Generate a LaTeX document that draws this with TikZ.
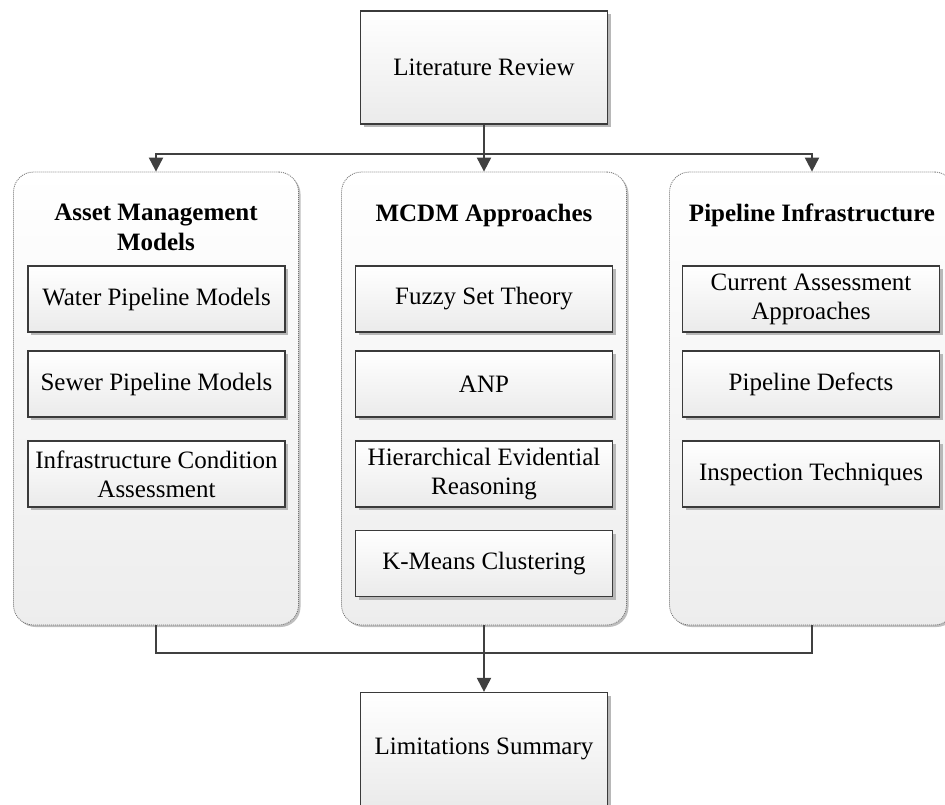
\documentclass[tikz,border=0pt]{standalone}
\usepackage{fontspec}
\setmainfont{Liberation Serif}
\usetikzlibrary{arrows.meta,shadows}
\definecolor{linegray}{HTML}{404040}
\definecolor{edgegray}{HTML}{3A3A3A}
\begin{document}
\begin{tikzpicture}[x=1pt,y=-1pt,
  txt/.style={font=\fontsize{25}{29}\selectfont, align=center},
  itembox/.style={txt, draw=edgegray, line width=1.2pt, top color=white,
    bottom color=black!8, minimum width=257pt, minimum height=66pt, inner sep=2pt,
    drop shadow={shadow xshift=3pt, shadow yshift=-3pt, fill=black!28, opacity=1}},
  endbox/.style={itembox, minimum width=247pt, minimum height=113pt},
  group/.style={draw=black!55, line width=0.8pt, dash pattern=on 1pt off 1pt,
    rounded corners=20pt, top color=white, bottom color=black!7,
    minimum width=285pt, minimum height=453pt, inner sep=0pt,
    drop shadow={shadow xshift=2pt, shadow yshift=-2pt, fill=black!25, opacity=1}},
  title/.style={font=\bfseries\fontsize{25}{30}\selectfont, align=center, inner sep=0pt, anchor=north},
  link/.style={draw=linegray, line width=2pt},
  arrow/.style={link, -{Triangle[width=14pt,length=14pt]}}
]
\clip (0,0) rectangle (945,804);

% three group panels
\node[group] (gL) at (156,398.5) {};
\node[group] (gM) at (484,398.5) {};
\node[group] (gR) at (812,398.5) {};

% panel titles
\node[title] (tL) at (156,204) {Asset Management\\Models};
\node[title] (tM) at (484,204) {MCDM Approaches};
\node[title] (tR) at (812,204) {Pipeline Infrastructure};

% top and bottom boxes
\node[endbox] (lit) at (484,67.5) {Literature Review};
\node[endbox] (lim) at (484,749) {Limitations Summary};

% asset management models
\node[itembox] (l1) at (156.5,299) {Water Pipeline Models};
\node[itembox] (l2) at (156.5,384) {Sewer Pipeline Models};
\node[itembox] (l3) at (156.5,474) {Infrastructure Condition\\Assessment};

% MCDM approaches
\node[itembox] (m1) at (484,299) {Fuzzy Set Theory};
\node[itembox] (m2) at (484,384) {ANP};
\node[itembox] (m3) at (484,474) {Hierarchical Evidential\\Reasoning};
\node[itembox] (m4) at (484,563.5) {K-Means Clustering};

% pipeline infrastructure
\node[itembox] (r1) at (811,299) {Current Assessment\\Approaches};
\node[itembox] (r2) at (811,384) {Pipeline Defects};
\node[itembox] (r3) at (811,474) {Inspection Techniques};

% connectors
\draw[arrow] (lit.south) -- (gM.north);
\draw[arrow] (lit.south) -- ++(0,29) -| (gL.north);
\draw[arrow] (lit.south) -- ++(0,29) -| (gR.north);
\draw[link] (gL.south) -- ++(0,28) -| (gR.south);
\draw[arrow] (gM.south) -- (lim.north);
\end{tikzpicture}
\end{document}
